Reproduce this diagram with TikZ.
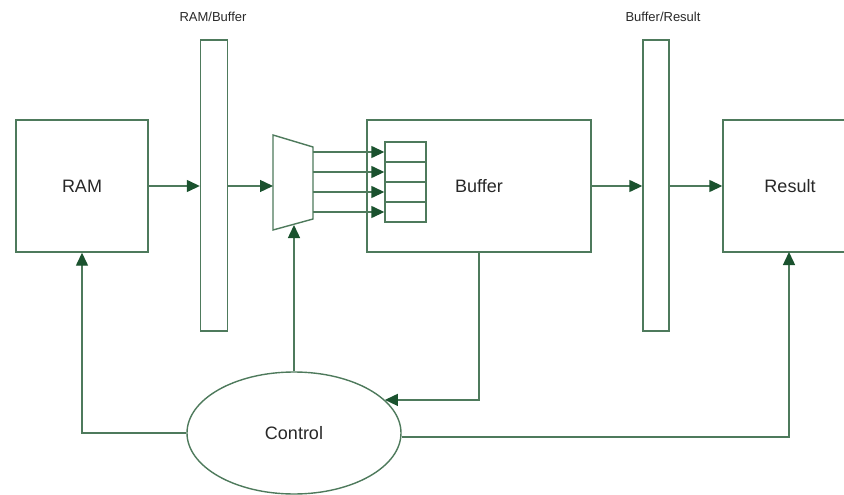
\documentclass[tikz,border=0pt]{standalone}
\usepackage{fontspec}
\setmainfont{Liberation Sans}
\usetikzlibrary{arrows.meta,shapes.geometric}
\definecolor{edgec}{RGB}{78,122,92}
\definecolor{headc}{RGB}{26,82,46}
\definecolor{textc}{RGB}{40,40,40}
\tikzset{
  box/.style={draw=edgec,line width=1.4pt,fill=white,inner sep=0pt},
  lbl/.style={font=\fontsize{18}{20}\selectfont,text=textc},
  toplbl/.style={font=\fontsize{13}{15}\selectfont,text=textc},
  conn/.style={draw=edgec,line width=1.4pt,-{Triangle[length=13pt,width=12pt,color=headc]}},
  wire/.style={draw=edgec,line width=1.4pt}
}
\begin{document}
\begin{tikzpicture}[x=1pt,y=-1pt]
\useasboundingbox (0,0) rectangle (844,495);
% boxes
\node[box,minimum width=132pt,minimum height=132pt] (ram) at (82,186) {};
\node[lbl] at (82,186) {RAM};
\node[box,minimum width=27pt,minimum height=291pt] (bar1) at (214,185.5) {};
\node[toplbl] (lab1) at (213,17) {RAM/Buffer};
\node[box,minimum width=224pt,minimum height=132pt] (buf) at (479,186) {};
\node[lbl] (buftxt) at (479,186) {Buffer};
\node[box,minimum width=26pt,minimum height=291pt] (bar2) at (656,185.5) {};
\node[toplbl] (lab2) at (663,17) {Buffer/Result};
\node[box,minimum width=140pt,minimum height=132pt] (res) at (793,186) {};
\node[lbl] at (790,186) {Result};
% mux
\draw[wire,fill=white] (273,135) coordinate (m1) -- (313,147) coordinate (m2) -- (313,219) coordinate (m3) -- (273,230) coordinate (m4) -- cycle;
\coordinate (mL) at (273,186);
\coordinate (mB) at (294,225);
% cells
\foreach \i/\y in {1/152,2/172,3/192,4/212}{
  \node[box,minimum width=41pt,minimum height=20pt] (c\i) at (405.5,\y) {};
  \coordinate (s\i) at (313,\y);
  \draw[conn] (s\i) -- (c\i.west);
}
% control
\node[ellipse,draw=edgec,line width=1.4pt,fill=white,minimum width=214pt,minimum height=122pt,inner sep=0pt] (ctl) at (294,433) {};
\node[lbl] at (294,433) {Control};
% horizontal data arrows
\draw[conn] (ram.east) -- (ram.east -| bar1.west);
\draw[conn] (ram.east -| bar1.east) -- (mL);
\draw[conn] (buf.east) -- (buf.east -| bar2.west);
\draw[conn] (buf.east -| bar2.east) -- (res.west);
% control connections
\draw[conn] (ctl.north) -- (mB);
\draw[conn] (ctl.west) -| (ram.south);
\draw[conn] (ctl.east |- 0,437) -| (789,252);
\draw[conn] (479,252) |- (ctl.20);
\end{tikzpicture}
\end{document}
